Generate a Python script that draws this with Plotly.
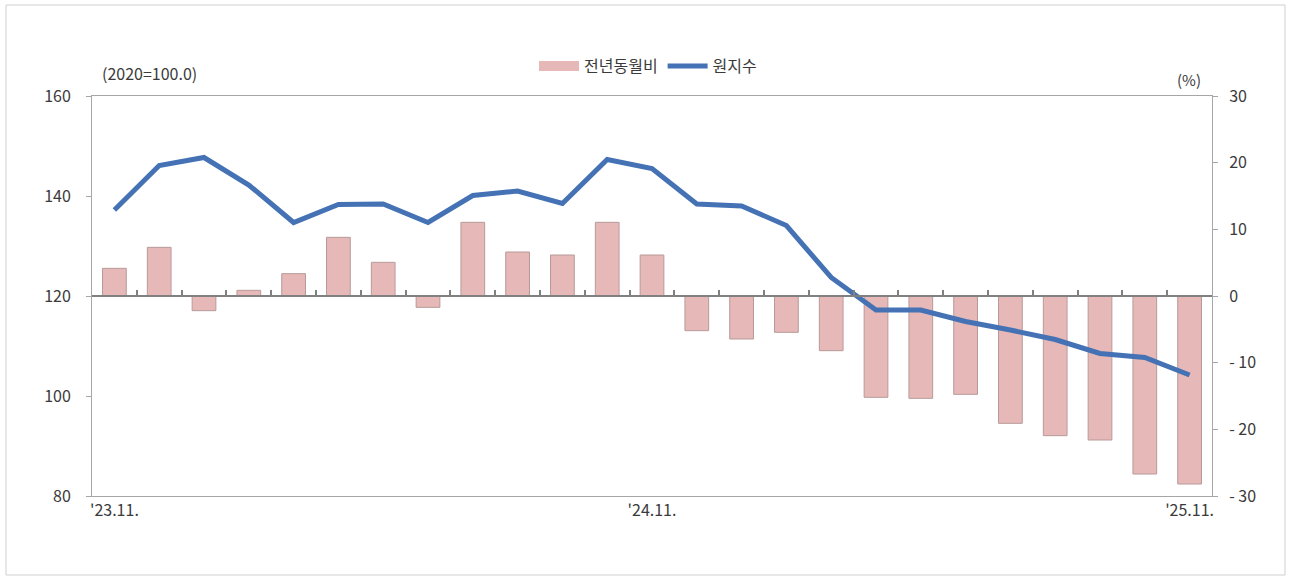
import plotly.graph_objects as go

months = ["23.11", "23.12", "24.01", "24.02", "24.03", "24.04", "24.05", "24.06", "24.07",
          "24.08", "24.09", "24.10", "24.11", "24.12", "25.01", "25.02", "25.03", "25.04",
          "25.05", "25.06", "25.07", "25.08", "25.09", "25.10", "25.11"]
yoy_pct = [4.15, 7.3, -2.2, 0.85, 3.35, 8.8, 5.05, -1.7, 11.05, 6.6, 6.15, 11.05, 6.15,
           -5.2, -6.45, -5.45, -8.2, -15.2, -15.35, -14.75, -19.1, -20.95, -21.6, -26.7, -28.2]
index_vals = [137.2, 146.1, 147.7, 142.2, 134.7, 138.3, 138.4, 134.7, 140.1, 141.0, 138.5,
              147.3, 145.5, 138.4, 138.0, 134.1, 123.7, 117.2, 117.2, 114.9, 113.2, 111.3,
              108.5, 107.7, 104.2]
label_months = ["23.11", "24.11", "25.11"]
label_text = ["'23.11.", "'24.11.", "'25.11."]
left_ticks = [80, 100, 120, 140, 160]
right_ticks = [-30, -20, -10, 0, 10, 20, 30]
right_text = ["- 30", "- 20", "- 10", "0", "10", "20", "30"]

PINK = "#e6b8b7"
PINK_EDGE = "#b89a9a"
BLUE = "#4472b4"
GRAY = "#a6a6a6"
TXT = "#3a3a3a"
FONT = "Noto Sans CJK KR"
n = len(months)
boundaries = [i + 0.5 for i in range(n - 1)]

fig = go.Figure()
fig.add_trace(go.Bar(x=months, y=yoy_pct, xaxis="x", yaxis="y",
                     marker=dict(color=PINK, line=dict(color=PINK_EDGE, width=1)),
                     name="전년동월비", showlegend=False))
fig.add_trace(go.Scatter(x=[None], y=[None], mode="lines", xaxis="x", yaxis="y",
                         line=dict(color=PINK, width=10), name="전년동월비"))
fig.add_trace(go.Scatter(x=months, y=index_vals, mode="lines", xaxis="x", yaxis="y2",
                         line=dict(color=BLUE, width=5), name="원지수"))
fig.add_trace(go.Scatter(x=[], y=[], xaxis="x2", yaxis="y", showlegend=False,
                         hoverinfo="skip"))

W, H = 1291, 578
L, R, T, B = 92, 79, 96, 82
pw, ph = W - L - R, H - T - B

fig.update_layout(
    width=W, height=H,
    margin=dict(l=L, r=R, t=T, b=B),
    paper_bgcolor="white", plot_bgcolor="white",
    font=dict(family=FONT, size=16, color=TXT),
    bargap=0.47,
    showlegend=True,
    legend=dict(orientation="h", x=(648 - L) / pw, xanchor="center", y=(H - B - 66) / ph,
                yanchor="middle", font=dict(size=16, color=TXT),
                itemwidth=40, tracegroupgap=0, bgcolor="rgba(0,0,0,0)"),
    xaxis=dict(type="category", range=[-0.5, n - 0.5], showline=True, mirror=True,
               linecolor=GRAY, linewidth=1, ticks="", showgrid=False, zeroline=False,
               tickmode="array", tickvals=label_months, ticktext=label_text,
               tickfont=dict(size=16, color=TXT)),
    xaxis2=dict(type="linear", overlaying="x", anchor="free", position=0.5,
                range=[-0.5, n - 0.5], showline=True, linecolor="#808080", linewidth=1.5,
                ticks="inside", ticklen=5, tickcolor="#808080", tickwidth=1.5,
                tickmode="array", tickvals=boundaries, showticklabels=False,
                showgrid=False, zeroline=False),
    yaxis=dict(side="right", anchor="x", range=[-30, 30], tickmode="array",
               tickvals=right_ticks, ticktext=right_text, showline=True, linecolor=GRAY,
               ticks="outside", ticklen=5, tickcolor=GRAY, showgrid=False, zeroline=False,
               ticklabelstandoff=8),
    yaxis2=dict(side="left", overlaying="y", anchor="x", range=[80, 160], tickmode="array",
                tickvals=left_ticks, showline=True, linecolor=GRAY, ticks="outside",
                ticklen=5, tickcolor=GRAY, showgrid=False, zeroline=False,
                ticklabelstandoff=12),
    annotations=[
        dict(text="(2020=100.0)", xref="paper", yref="paper", x=(100 - L) / pw,
             y=(H - B - 73) / ph, xanchor="left", yanchor="middle", showarrow=False,
             font=dict(size=16, color=TXT)),
        dict(text="(%)", xref="paper", yref="paper", x=(1203 - L) / pw,
             y=(H - B - 80) / ph, xanchor="right", yanchor="middle", showarrow=False,
             font=dict(size=15, color=TXT)),
    ],
    shapes=[
        dict(type="rect", xref="paper", yref="paper",
             x0=(6 - L) / pw, x1=(1285 - L) / pw,
             y0=(H - B - 575) / ph, y1=(H - B - 5) / ph,
             line=dict(color="#cfcfcf", width=1), fillcolor="rgba(0,0,0,0)", layer="below"),
    ],
)

fig.write_html("out.html", config={"displayModeBar": False},
               post_script="document.body.style.margin='0';document.body.style.padding='0';")
